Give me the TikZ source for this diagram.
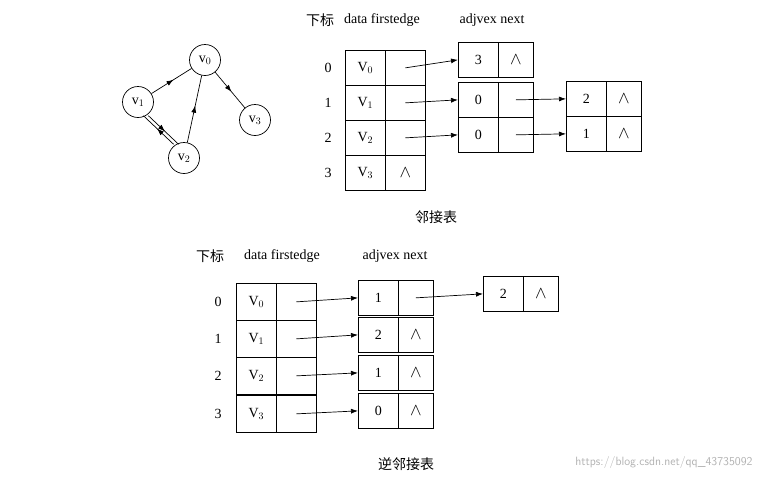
\documentclass[tikz,border=0pt]{standalone}
\usepackage{fontspec}
\setmainfont{Liberation Serif}
\newfontfamily\cjk{Noto Sans CJK SC}
\usetikzlibrary{decorations.markings,arrows.meta}
\begin{document}
\begin{tikzpicture}[x=1pt,y=-1pt,font=\fontsize{14}{16}\selectfont,
  cell/.style={draw,minimum width=40pt,minimum height=35pt,inner sep=0pt,anchor=north west,line width=0.7pt},
  cellb/.style={draw,minimum width=35pt,minimum height=35pt,inner sep=0pt,anchor=north west,line width=0.7pt},
  vert/.style={draw,circle,minimum size=31pt,inner sep=0pt,line width=0.7pt},
  ptr/.style={-{Latex[length=7pt,width=5pt]},line width=0.7pt},
  nil/.style={font=\fontsize{17}{17}\selectfont},
  mid/.style={line width=0.7pt,decoration={markings,mark=at position 0.55 with {\arrow{Latex[length=7pt,width=5pt]}}},postaction={decorate}}]
\useasboundingbox (0,0) rectangle (781,480);
% graph
\node[vert] (g0) at (205,60) {v$_0$};
\node[vert] (g1) at (138,102) {v$_1$};
\node[vert] (g2) at (184,158) {v$_2$};
\node[vert] (g3) at (255,120) {v$_3$};
\draw[mid] (g1) -- (g0);
\draw[mid] (g0) -- (g3);
\draw[mid] (g2) -- (g0);
\draw[mid] ([xshift=2.5pt]g1.-60) -- ([xshift=2.5pt]g2.120);
\draw[mid] ([xshift=-2.5pt]g2.120) -- ([xshift=-2.5pt]g1.-60);
% top table
\node at (320,20) {\cjk 下标};
\node at (382,20) {data firstedge};
\node at (492,20) {adjvex next};
\foreach \i/\y in {0/50,1/85,2/120,3/155}{
  \node[cell] (td\i) at (345,\y) {V$_\i$};
  \node[cell] (tf\i) at (385,\y) {};
  \node at (328,\y+17.5) {\i};
}
\node[nil] at (tf3) {$\wedge$};
\node[cell] (a0) at (458,42) {3}; \node[cellb,nil] (b0) at (498,42) {$\wedge$};
\node[cell] (a1) at (458,82) {0}; \node[cellb] (b1) at (498,82) {};
\node[cell] (a2) at (458,117) {0}; \node[cellb] (b2) at (498,117) {};
\node[cell] (c1) at (566,81) {2}; \node[cellb,nil] (d1) at (606,81) {$\wedge$};
\node[cell] (c2) at (566,116) {1}; \node[cellb,nil] (d2) at (606,116) {$\wedge$};
\draw[ptr] (tf0.center) -- (a0.west);
\draw[ptr] (tf1.center) -- (a1.west);
\draw[ptr] (tf2.center) -- (a2.west);
\draw[ptr] (b1.center) -- (c1.west);
\draw[ptr] (b2.center) -- (c2.west);
\node at (436,217) {\cjk 邻接表};
% bottom table
\node at (210,256) {\cjk 下标};
\node at (282,256) {data firstedge};
\node at (395,256) {adjvex next};
\foreach \i/\y in {0/283,1/320,2/357,3/395}{
  \node[cell,minimum height=37pt] (bd\i) at (236,\y) {V$_\i$};
  \node[cell,minimum height=37pt] (bf\i) at (276,\y) {};
  \node at (218,\y+18.5) {\i};
}
\node[cell] (e0) at (358,280) {1}; \node[cellb] (f0) at (398,280) {};
\node[cell] (e1) at (358,317) {2}; \node[cellb,nil] (f1) at (398,317) {$\wedge$};
\node[cell] (e2) at (358,355) {1}; \node[cellb,nil] (f2) at (398,355) {$\wedge$};
\node[cell] (e3) at (358,393) {0}; \node[cellb,nil] (f3) at (398,393) {$\wedge$};
\node[cell] (h0) at (483,276) {2}; \node[cellb,nil] (k0) at (523,276) {$\wedge$};
\draw[ptr] (bf0.center) -- (e0.west);
\draw[ptr] (bf1.center) -- (e1.west);
\draw[ptr] (bf2.center) -- (e2.west);
\draw[ptr] (bf3.center) -- (e3.west);
\draw[ptr] (f0.center) -- (h0.west);
\node at (406,464) {\cjk 逆邻接表};
\node[gray!60,font=\fontsize{12}{14}\selectfont\sffamily] at (664,462) {https://blog.csdn.net/qq\_43735092};
\end{tikzpicture}
\end{document}
